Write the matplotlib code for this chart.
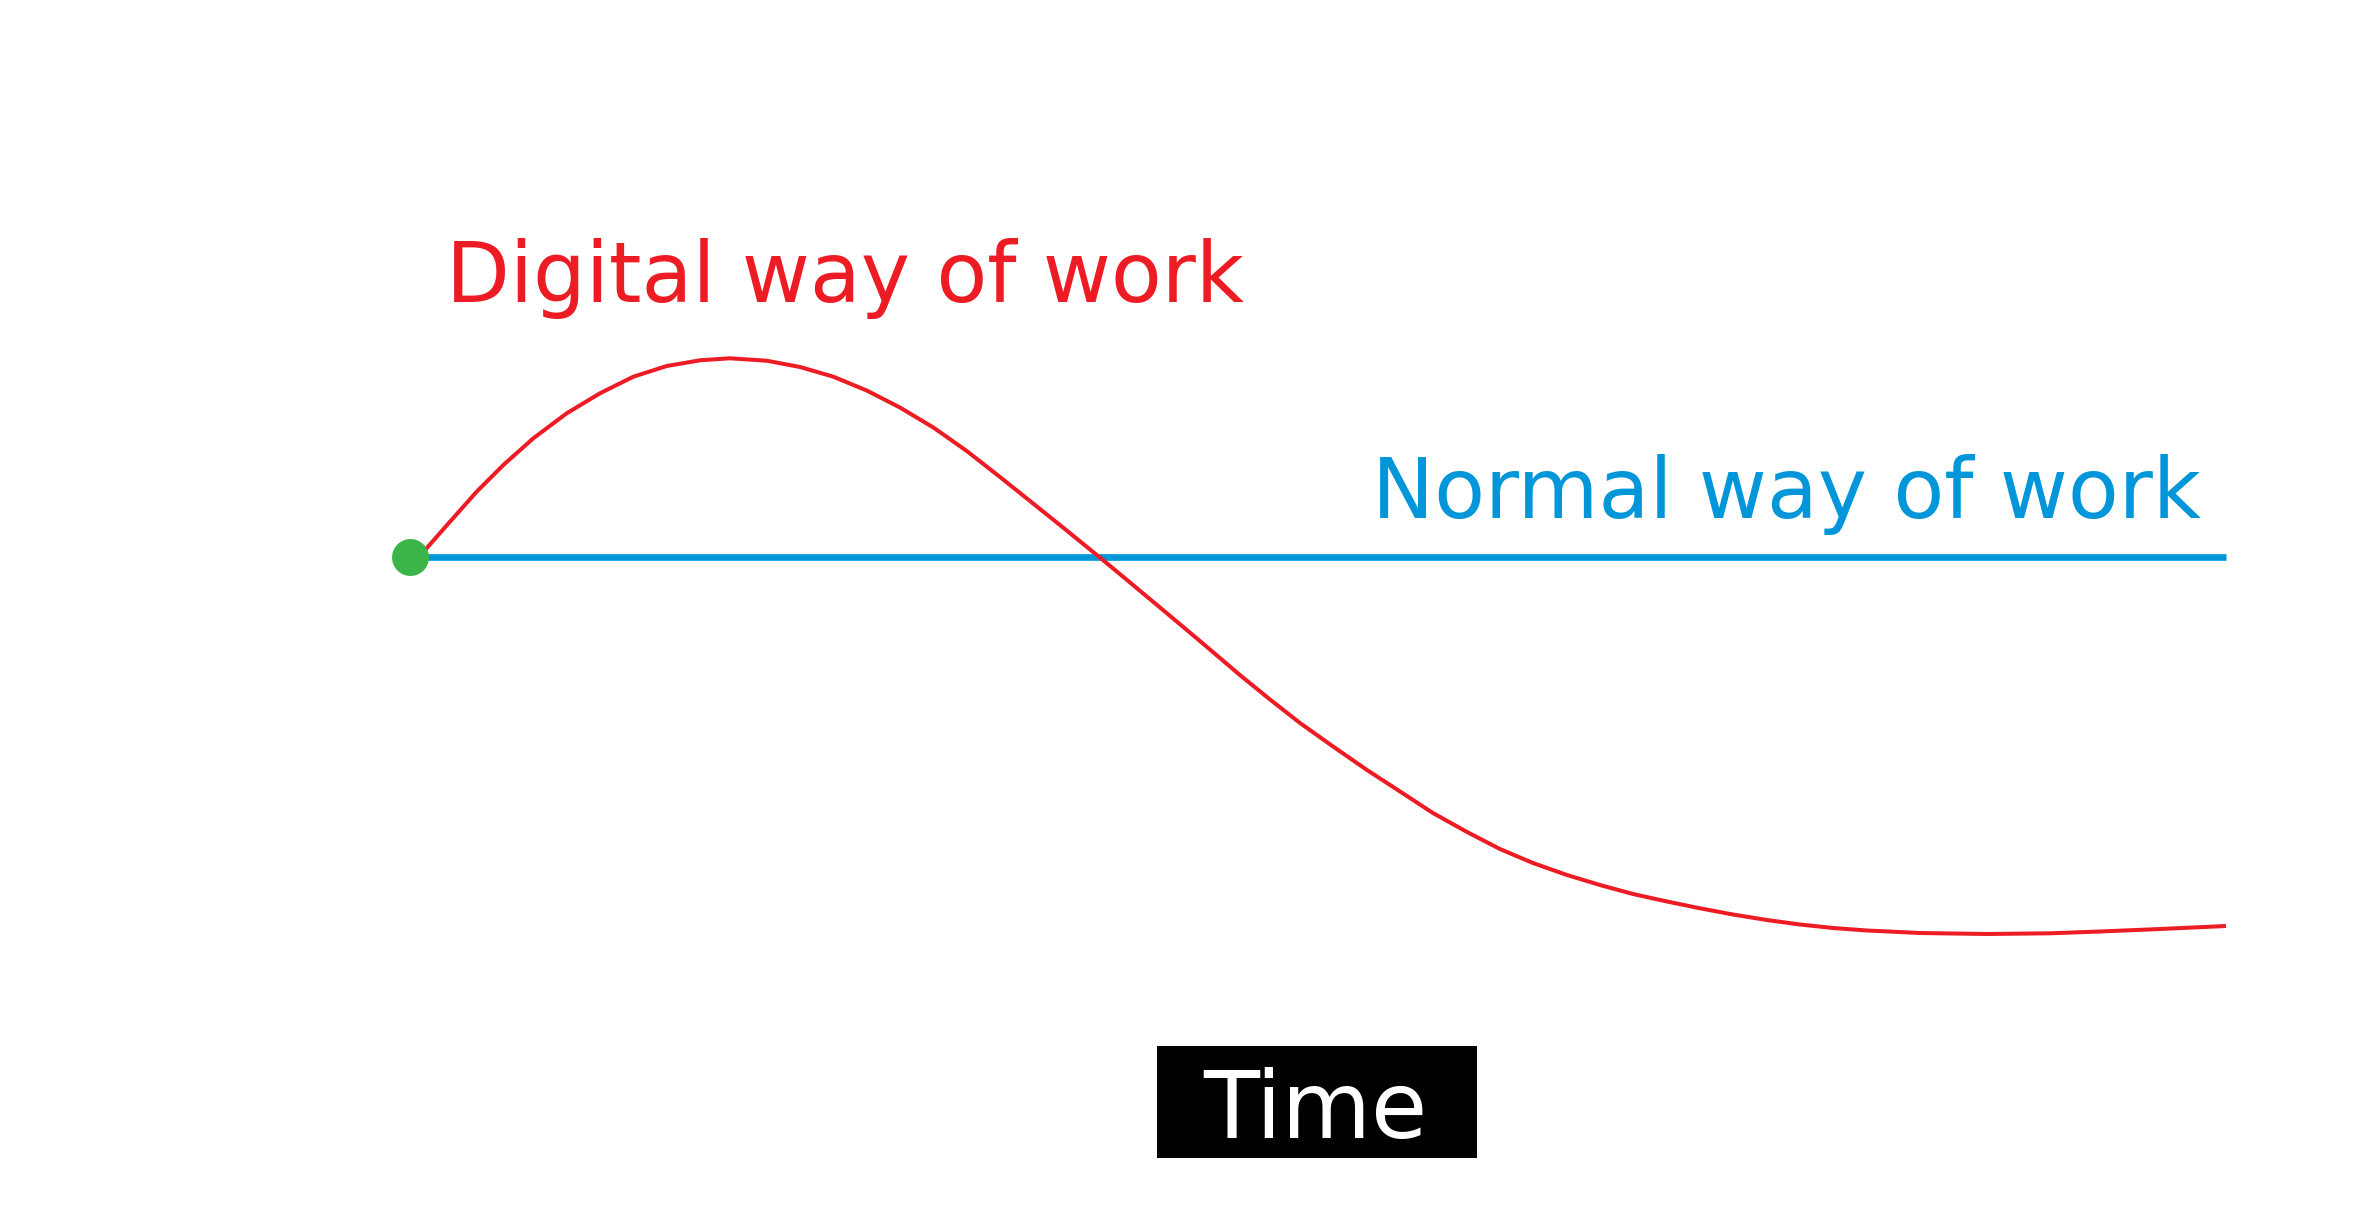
import matplotlib
matplotlib.use('Agg')
import matplotlib.pyplot as plt
from matplotlib.patches import Rectangle

# time axis (0 = start, 100 = end) and performance relative to the normal way
time = [0.44, 0.83, 2.20, 3.67, 5.14, 6.79, 8.63, 10.46, 12.30, 14.14, 15.97, 17.62,
        19.64, 21.48, 23.31, 25.15, 26.98, 28.82, 30.66, 32.49, 34.14, 35.79, 37.99,
        39.65, 41.30, 43.50, 45.70, 47.36, 49.01, 50.83, 52.70, 54.52, 56.33, 58.21,
        60.02, 61.84, 63.71, 65.53, 67.35, 69.22, 71.04, 72.85, 74.72, 76.54, 78.36,
        80.23, 83.15, 86.84, 90.31, 93.06, 96.37, 100.0]
digital = [-0.23, 0.67, 3.50, 6.50, 9.17, 11.84, 14.34, 16.34, 18.00, 19.07, 19.64, 19.84,
           19.60, 18.97, 18.00, 16.62, 14.92, 12.92, 10.57, 7.97, 5.57, 3.17, -0.08,
           -2.58, -5.08, -8.43, -11.83, -14.28, -16.63, -18.98, -21.33, -23.48, -25.63, -27.53,
           -29.23, -30.63, -31.83, -32.83, -33.73, -34.48, -35.16, -35.78, -36.33, -36.78, -37.13,
           -37.38, -37.63, -37.73, -37.66, -37.48, -37.23, -36.93]
normal_time = [0, 100]
normal = [0, 0]

RED = '#ED1C24'
BLUE = '#0096D9'
GREEN = '#3BB54A'

fig = plt.figure(figsize=(23.63, 12.12), dpi=100)
ax = fig.add_axes([0, 0, 1, 1])
ax.set_xlim(-22.58, 107.55)
ax.set_ylim(-65.53, 55.67)
ax.axis('off')

ax.plot(normal_time, normal, color=BLUE, lw=4.8, solid_capstyle='butt', zorder=2)
ax.plot(time, digital, color=RED, lw=2.9, solid_capstyle='butt',
        solid_joinstyle='round', zorder=3)
ax.plot([normal_time[0]], [normal[0]], 'o', color=GREEN, markersize=26.6,
        markeredgewidth=0, zorder=4)

ax.text(1.98, 25.5, 'Digital way of work', color=RED, fontsize=59.9,
        ha='left', va='baseline')
ax.text(53.0, 3.9, 'Normal way of work', color=BLUE, fontsize=59.9,
        ha='left', va='baseline')

# x-axis label box
fig.patches.append(Rectangle((0.4895, 0.0448), 0.1354, 0.0924, transform=fig.transFigure,
                             facecolor='black', edgecolor='none'))
fig.text(0.5565, 0.0608, 'Time', color='white', fontsize=66, ha='center', va='baseline')

fig.savefig('out.png', dpi=100, facecolor='white')
